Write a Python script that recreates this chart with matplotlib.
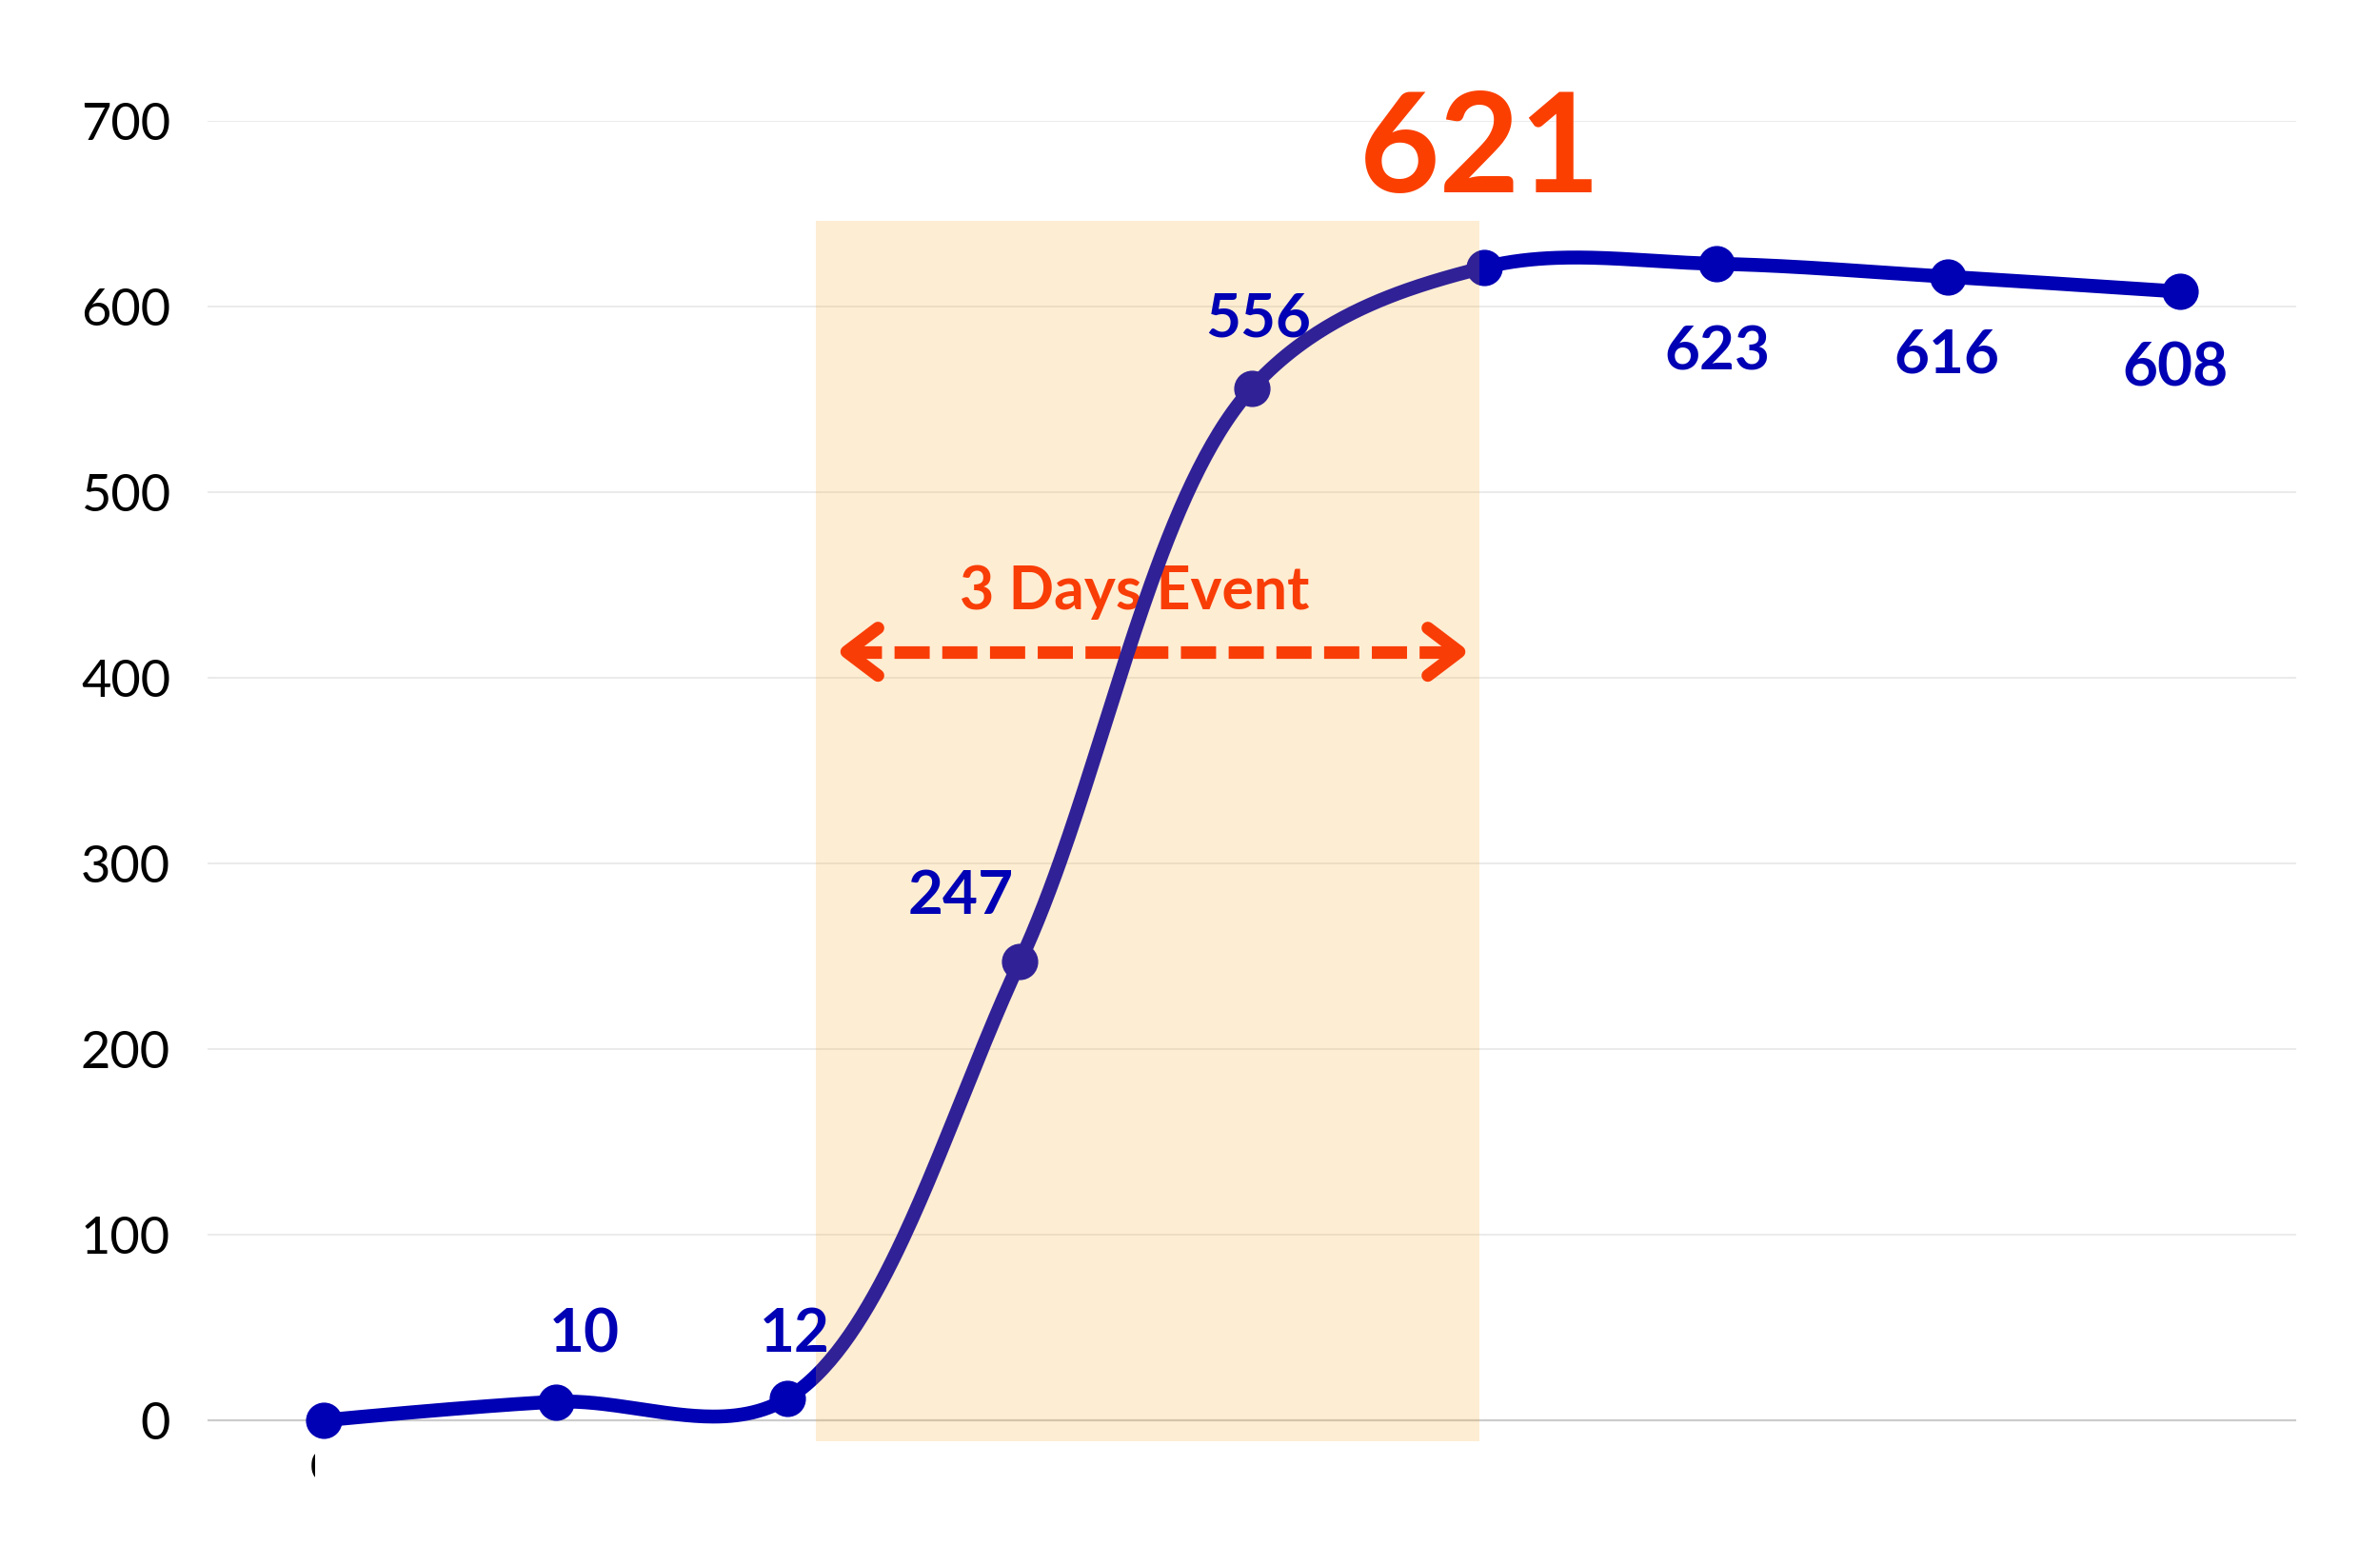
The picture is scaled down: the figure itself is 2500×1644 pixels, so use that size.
import numpy as np
import matplotlib.pyplot as plt
from matplotlib.patches import Rectangle

# data
days = np.arange(9)
values = [0, 10, 12, 247, 556, 621, 623, 616, 608]
yticks = [0, 100, 200, 300, 400, 500, 600, 700]

# label offsets in points (dx, dy to baseline)
label_offsets = [None, (21.6, 37.4), (5, 35.3), (-44.6, 36), (5, 38.9),
                 None, (0.7, -80), (-1.4, -72.7), (-3.6, -71.3)]

event_span = (2.12, 4.98)
event_y = (-11, 646)
arrow_x = (2.254, 4.893)
arrow_y = 414
event_label = '3 Days Event'
peak_idx = 5

BLUE = '#0000b4'
RED = '#fb3f00'
RED_UNDER = '#fb2400'   # sits under the shading, so a bit deeper

plt.rcParams['font.family'] = ['Lato', 'DejaVu Sans']


def catmull_rom_px(pts, alpha=0.5, n=80):
    """centripetal catmull-rom (d3 style) through pixel points"""
    pts = np.asarray(pts, float)
    out = [pts[:1]]
    t = np.linspace(0, 1, n)[1:, None]
    eps = 1e-12
    for i in range(len(pts) - 1):
        p0 = pts[i - 1] if i > 0 else pts[i]
        p1, p2 = pts[i], pts[i + 1]
        p3 = pts[i + 2] if i + 2 < len(pts) else pts[i + 1]
        l01 = np.hypot(*(p1 - p0))
        l12 = np.hypot(*(p2 - p1))
        l23 = np.hypot(*(p3 - p2))
        l01a, l12a, l23a = l01 ** alpha, l12 ** alpha, l23 ** alpha
        l01_2a, l12_2a, l23_2a = l01 ** (2 * alpha), l12 ** (2 * alpha), l23 ** (2 * alpha)
        c1, c2 = p1.copy(), p2.copy()
        if l01a > eps:
            a = 2 * l01_2a + 3 * l01a * l12a + l12_2a
            nn = 3 * l01a * (l01a + l12a)
            c1 = (p1 * a - p0 * l12_2a + p2 * l01_2a) / nn
        if l23a > eps:
            b = 2 * l23_2a + 3 * l23a * l12a + l12_2a
            m = 3 * l23a * (l23a + l12a)
            c2 = (p2 * b + p1 * l23_2a - p3 * l12_2a) / m
        seg = ((1 - t) ** 3 * p1 + 3 * (1 - t) ** 2 * t * c1
               + 3 * (1 - t) * t ** 2 * c2 + t ** 3 * p2)
        out.append(seg)
    return np.vstack(out)


fig = plt.figure(figsize=(25, 16.44), dpi=100)
ax = fig.add_axes([0.0872, 0.0687, 0.8776, 0.8541])
ax.set_xlim(-0.5, 8.5)
ax.set_ylim(-20, 700)

for s in ax.spines.values():
    s.set_visible(False)
ax.set_xticks([])
ax.set_yticks(yticks)
ax.set_yticklabels([str(v) for v in yticks], fontsize=39, color='black')
ax.tick_params(axis='y', length=0, pad=28)
for v in yticks:
    ax.axhline(v, color='#cccccc' if v == 0 else '#e8e8e8',
               lw=1.6 if v == 0 else 1.2, zorder=0)

# arrow + event text (under the line)
ax.plot(arrow_x, [arrow_y, arrow_y], color=RED_UNDER, lw=9.5, ls=(0, (2.8, 1.0)),
        solid_capstyle='butt', dash_capstyle='butt', zorder=2)
adx, ady = 0.135, 12.8
ax.plot([arrow_x[0] + adx, arrow_x[0], arrow_x[0] + adx],
        [arrow_y + ady, arrow_y, arrow_y - ady], color=RED_UNDER, lw=9.5,
        solid_capstyle='round', solid_joinstyle='round', zorder=2)
ax.plot([arrow_x[1] - adx, arrow_x[1], arrow_x[1] - adx],
        [arrow_y + ady, arrow_y, arrow_y - ady], color=RED_UNDER, lw=9.5,
        solid_capstyle='round', solid_joinstyle='round', zorder=2)
ax.text(3.496, 437, event_label, color=RED_UNDER, fontsize=45, fontweight='bold',
        ha='center', va='baseline', zorder=2)

# smooth line (spline built in pixel space, like the original renderer)
px = ax.transData.transform(np.column_stack([days, values]))
curve = ax.transData.inverted().transform(catmull_rom_px(px))
ax.plot(curve[:, 0], curve[:, 1], color=BLUE, lw=10.5,
        solid_capstyle='round', zorder=3)
ax.plot(days, values, 'o', color=BLUE, ms=26.5, zorder=3)

# event shading on top of the line
ax.add_patch(Rectangle((event_span[0], event_y[0]), event_span[1] - event_span[0],
                       event_y[1] - event_y[0], facecolor='#f5a623', alpha=0.2,
                       edgecolor='none', zorder=4))

# data labels
for i, v in enumerate(values):
    off = label_offsets[i]
    if off is None:
        continue
    ax.annotate(str(v), (days[i], v), xytext=off, textcoords='offset points',
                ha='center', va='baseline', fontsize=46, fontweight='bold',
                color=BLUE, zorder=5, annotation_clip=False)

ax.annotate(str(values[peak_idx]), (days[peak_idx], values[peak_idx]),
            xytext=(-3, 57), textcoords='offset points', ha='center',
            va='baseline', fontsize=105, fontweight='bold', color=RED,
            zorder=5, annotation_clip=False)

# clipped label under the first point
t0 = ax.annotate(str(values[0]), (days[0], values[0]), xytext=(-1.5, -45),
                 textcoords='offset points', ha='center', va='baseline',
                 fontsize=31, color='black', annotation_clip=False)
clip = Rectangle((-1, -200), 1 - 0.037, 400, transform=ax.transData)
t0.set_clip_path(clip)

fig.savefig('out.png', dpi=100)
